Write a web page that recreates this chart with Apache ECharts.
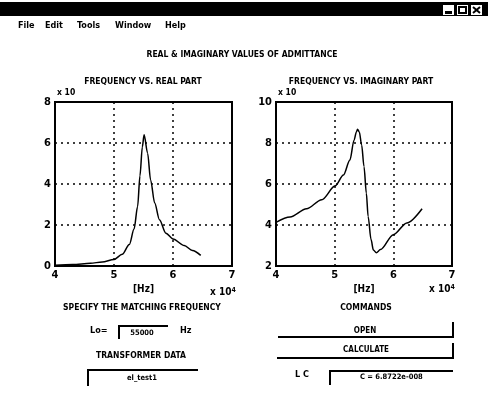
<!DOCTYPE html>
<html>
<head>
<meta charset="utf-8">
<script src="https://cdn.jsdelivr.net/npm/echarts@6/dist/echarts.min.js"></script>
<style>
  html, body { margin: 0; padding: 0; background: #fff; }
  #myCharts { width: 488px; height: 403px; background-color: #fff; }
</style>
</head>
<body>
<div id="myCharts"></div>
<script>
// frequency in units of 1e4 Hz
var realFreq = [4.0, 4.3, 4.6, 4.8, 5.0, 5.14, 5.26, 5.34, 5.40, 5.44, 5.48, 5.51, 5.57, 5.62, 5.69, 5.77, 5.88, 6.0, 6.19, 6.33, 6.47];
var realPart = [0.04, 0.07, 0.13, 0.2, 0.32, 0.57, 1.05, 1.8, 2.9, 4.4, 5.8, 6.4, 5.5, 4.2, 3.07, 2.26, 1.6, 1.32, 1.0, 0.76, 0.52];
var imagFreq = [4.0, 4.24, 4.52, 4.78, 5.01, 5.15, 5.26, 5.33, 5.37, 5.39, 5.42, 5.46, 5.50, 5.54, 5.57, 5.62, 5.66, 5.71, 5.78, 6.0, 6.23, 6.49];
var imagPart = [4.13, 4.39, 4.79, 5.23, 5.91, 6.44, 7.17, 8.14, 8.54, 8.67, 8.54, 7.9, 6.85, 5.55, 4.42, 3.29, 2.78, 2.65, 2.8, 3.53, 4.1, 4.79];
var menuItems = ["File", "Edit", "Tools", "Window", "Help"];
var menuX = [18, 45, 77, 115, 165];

var FONT = '"DejaVu Sans Condensed", "Liberation Sans", Arial, sans-serif';

function label(text, x, y, size, align) {
  return {
    type: "text", x: x, y: y, z: 10,
    style: {
      text: text, fill: "#000",
      font: "bold " + size + "px " + FONT,
      align: align || "center", verticalAlign: "middle"
    }
  };
}
function edge(points, w) {
  return {
    type: "polyline", z: 10,
    shape: { points: points },
    style: { stroke: "#000", lineWidth: w || 2, fill: null }
  };
}
function pairs(xs, ys) {
  return xs.map(function (x, i) { return [x, ys[i]]; });
}
function xAxisOpt(idx) {
  return {
    type: "value", gridIndex: idx, min: 4, max: 7, interval: 1,
    name: "[Hz]", nameLocation: "middle", nameGap: 18,
    nameTextStyle: { color: "#000", fontWeight: "bold", fontSize: 10, fontFamily: FONT },
    axisLine: { show: false }, axisTick: { show: false },
    axisLabel: { color: "#000", fontWeight: "bold", fontSize: 11, fontFamily: FONT, margin: 4 },
    splitLine: { show: true, lineStyle: { color: "#000", width: 1.5, type: [2, 4] } }
  };
}
function yAxisOpt(idx, min, max) {
  return {
    type: "value", gridIndex: idx, min: min, max: max, interval: 2,
    axisLine: { show: false }, axisTick: { show: false },
    axisLabel: { color: "#000", fontWeight: "bold", fontSize: 11, fontFamily: FONT, margin: 4 },
    splitLine: { show: true, lineStyle: { color: "#000", width: 1.5, type: [2, 4] } }
  };
}

var graphics = [
  // window title bar
  { type: "rect", shape: { x: 0, y: 2, width: 488, height: 14 }, style: { fill: "#000" } },
  { type: "rect", z: 5, shape: { x: 443, y: 5, width: 11, height: 10 }, style: { fill: "#fff" } },
  { type: "rect", z: 6, shape: { x: 445, y: 11, width: 7, height: 3 }, style: { fill: "#000" } },
  { type: "rect", z: 5, shape: { x: 457, y: 5, width: 11, height: 10 }, style: { fill: "#fff" } },
  { type: "rect", z: 6, shape: { x: 459, y: 7, width: 7, height: 6 }, style: { fill: "none", stroke: "#000", lineWidth: 2 } },
  { type: "rect", z: 5, shape: { x: 471, y: 5, width: 11, height: 10 }, style: { fill: "#fff" } },
  { type: "polyline", z: 6, shape: { points: [[473, 7], [480, 13]] }, style: { stroke: "#000", lineWidth: 2 } },
  { type: "polyline", z: 6, shape: { points: [[480, 7], [473, 13]] }, style: { stroke: "#000", lineWidth: 2 } },

  label("REAL & IMAGINARY VALUES OF ADMITTANCE", 242, 55, 8.5),
  label("FREQUENCY VS. REAL PART", 143, 82, 8.5),
  label("FREQUENCY VS. IMAGINARY PART", 361, 82, 8.5),
  label("x 10", 57, 93, 8.5, "left"),
  label("x 10", 278, 93, 8.5, "left"),
  {
    type: "text", x: 210, y: 287, z: 10,
    style: { text: "{a|x 10}{b|4}", rich: {
      a: { font: "bold 10px " + FONT, fill: "#000", verticalAlign: "bottom" },
      b: { font: "bold 7px " + FONT, fill: "#000", verticalAlign: "top" } } }
  },
  {
    type: "text", x: 429, y: 284, z: 10,
    style: { text: "{a|x 10}{b|4}", rich: {
      a: { font: "bold 10px " + FONT, fill: "#000", verticalAlign: "bottom" },
      b: { font: "bold 7px " + FONT, fill: "#000", verticalAlign: "top" } } }
  },

  // left panel controls
  label("SPECIFY THE MATCHING FREQUENCY", 142, 308, 8.5),
  label("Lo=", 90, 331, 9, "left"),
  edge([[119, 339], [119, 326], [168, 326]]),
  label("55000", 142, 333, 7.5),
  label("Hz", 180, 331, 9, "left"),
  label("TRANSFORMER DATA", 141, 356, 8.5),
  edge([[88, 386], [88, 370], [198, 370]]),
  label("el_test1", 142, 378, 7.5),

  // right panel controls
  label("COMMANDS", 366, 308, 8.5),
  edge([[278, 337], [453, 337], [453, 322]]),
  label("OPEN", 365, 331, 8),
  edge([[277, 358], [453, 358], [453, 343]]),
  label("CALCULATE", 366, 350, 8),
  label("L C", 295, 375, 9, "left"),
  edge([[330, 385], [330, 371], [453, 371]]),
  label("C = 6.8722e-008", 360, 377, 7.5, "left")
];
menuItems.forEach(function (m, i) {
  graphics.push(label(m, menuX[i], 26, 9, "left"));
});

var option = {
  animation: false,
  backgroundColor: "#fff",
  grid: [
    { left: 55, top: 102, width: 177, height: 164, show: true, borderColor: "#000", borderWidth: 2, backgroundColor: "transparent" },
    { left: 276, top: 102, width: 176, height: 164, show: true, borderColor: "#000", borderWidth: 2, backgroundColor: "transparent" }
  ],
  xAxis: [xAxisOpt(0), xAxisOpt(1)],
  yAxis: [yAxisOpt(0, 0, 8), yAxisOpt(1, 2, 10)],
  series: [
    {
      type: "line", xAxisIndex: 0, yAxisIndex: 0,
      data: pairs(realFreq, realPart),
      showSymbol: false, smooth: 0.3, smoothMonotone: "x",
      lineStyle: { color: "#000", width: 1.5 }
    },
    {
      type: "line", xAxisIndex: 1, yAxisIndex: 1,
      data: pairs(imagFreq, imagPart),
      showSymbol: false, smooth: 0.3, smoothMonotone: "x",
      lineStyle: { color: "#000", width: 1.5 }
    }
  ],
  graphic: graphics
};

var myChart = echarts.init(document.getElementById("myCharts"));
myChart.setOption(option);
</script>
</body>
</html>
